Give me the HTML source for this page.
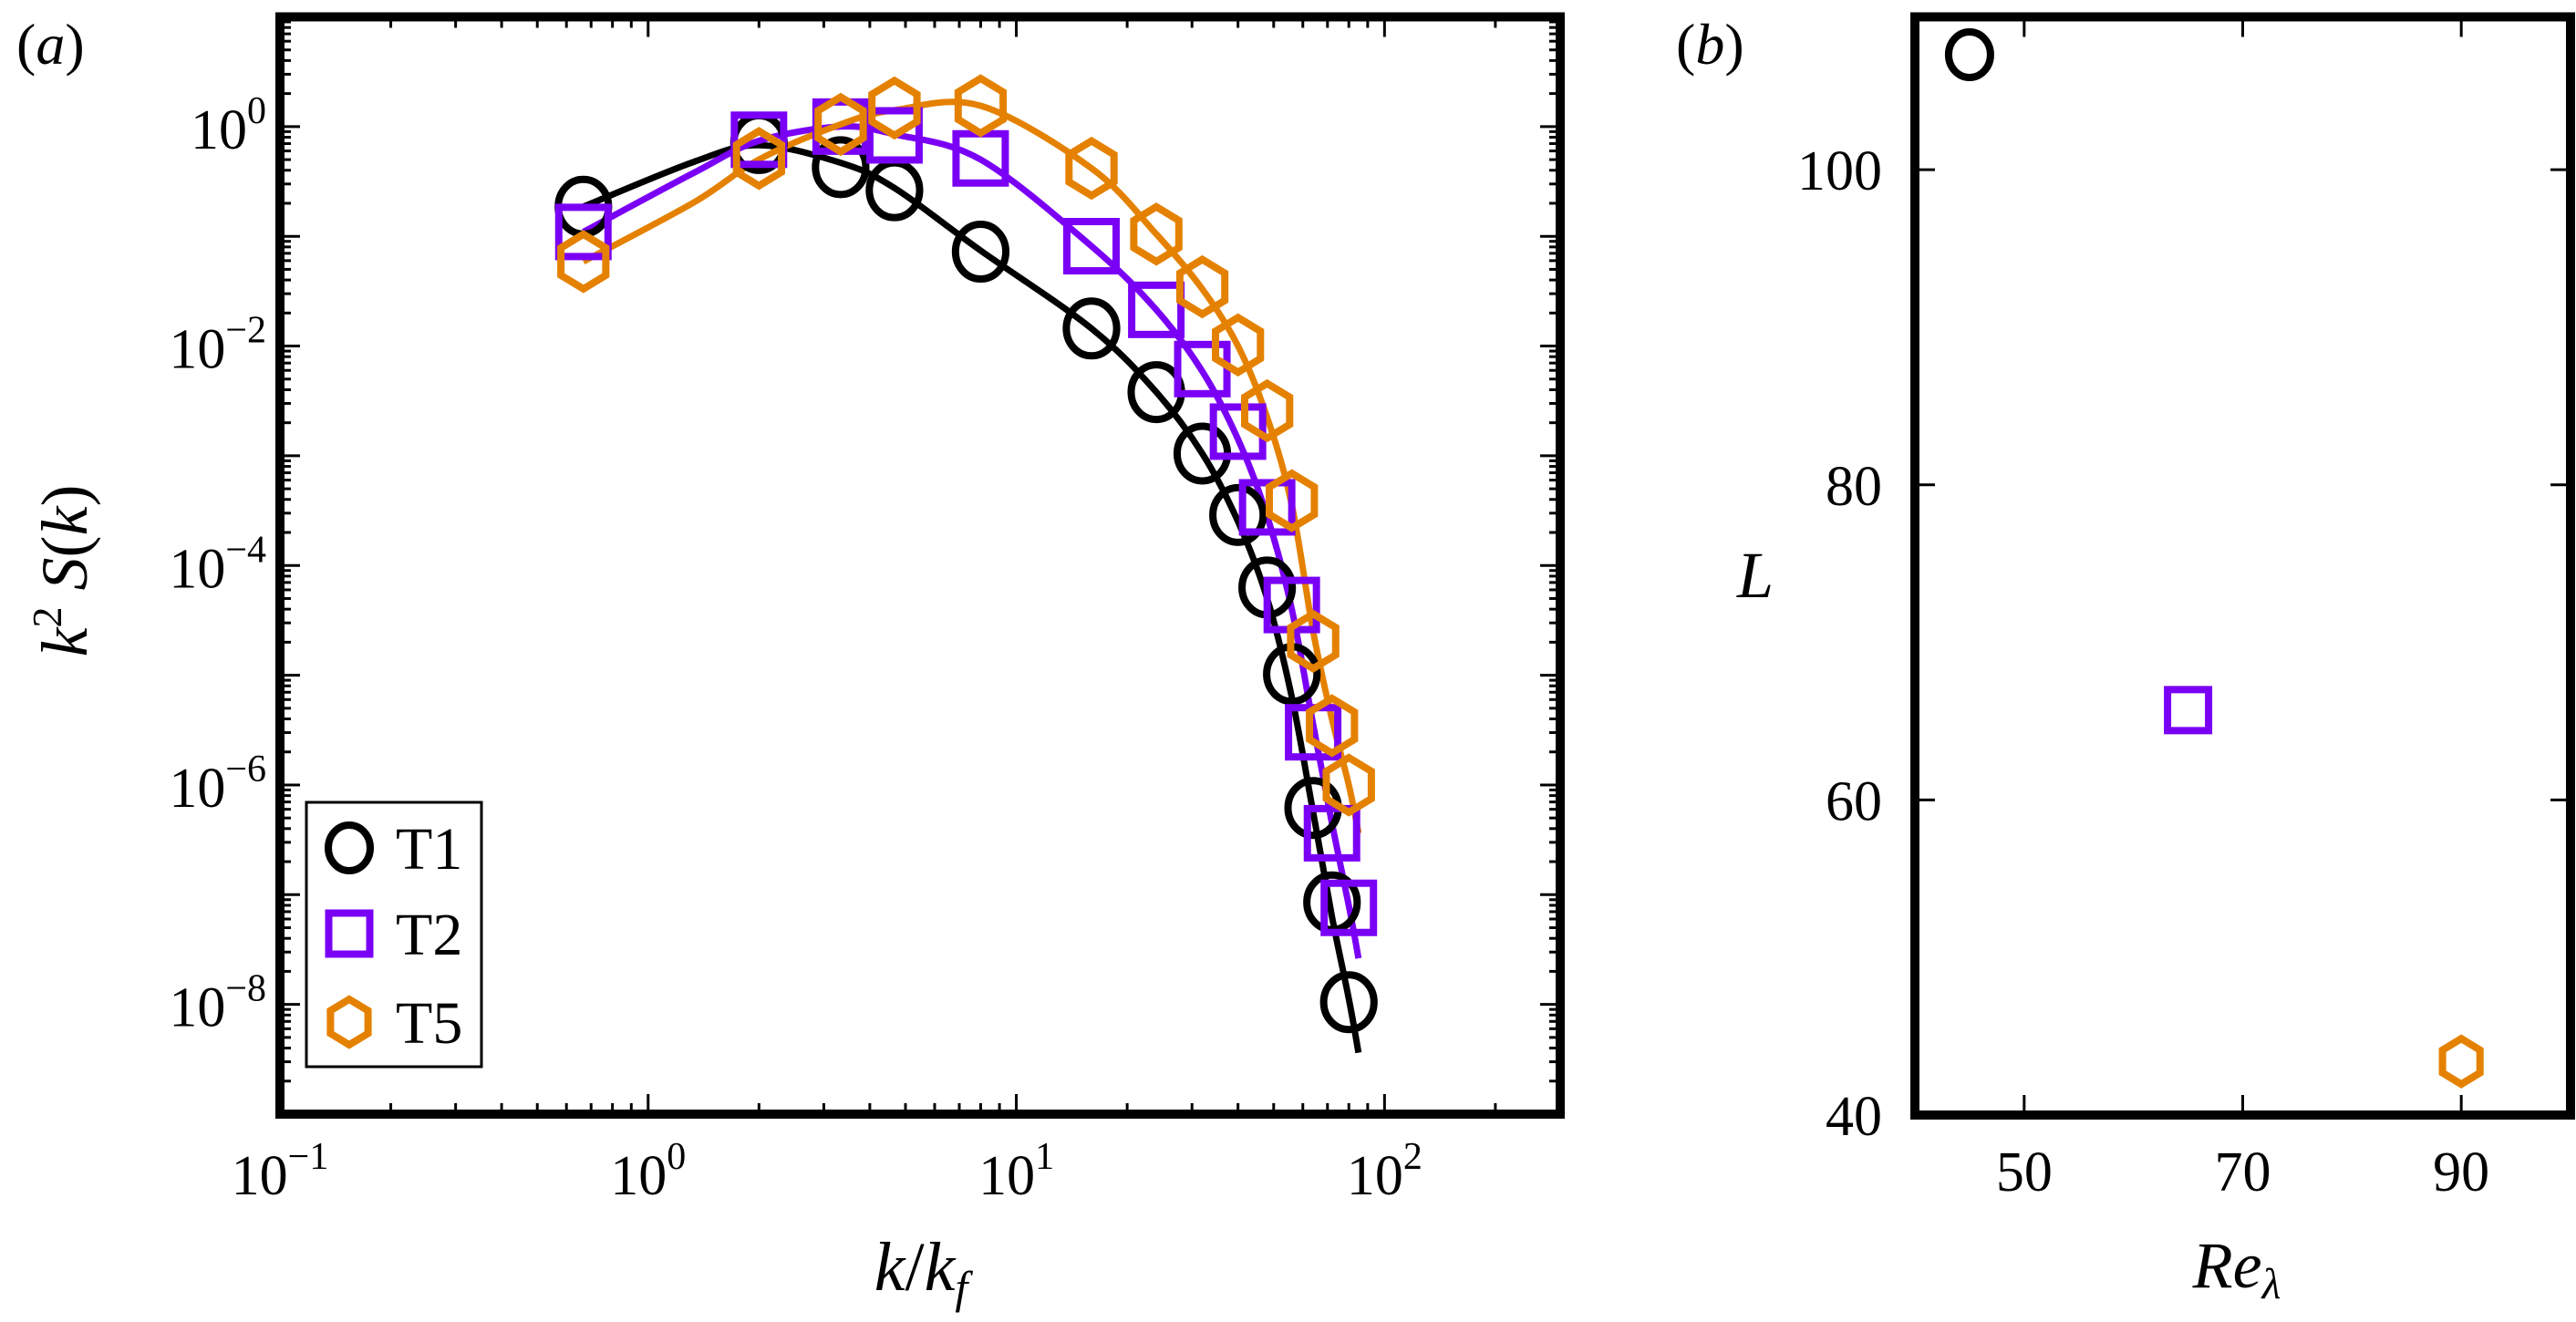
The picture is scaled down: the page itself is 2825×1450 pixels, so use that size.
<!DOCTYPE html>
<html><head><meta charset="utf-8"><style>
html,body{margin:0;padding:0;background:#fff;}
svg{display:block;font-family:"Liberation Serif",serif;}
</style></head><body>
<svg id="fig" width="2825" height="1450" viewBox="0 0 2825 1450" xmlns="http://www.w3.org/2000/svg">
<g id="pa"></g>
<g id="pb"></g>
<text x="18" y="70" font-size="64">(<tspan font-style="italic">a</tspan>)</text>
<text x="1838" y="70" font-size="64">(<tspan font-style="italic">b</tspan>)</text>
<text transform="translate(95,626) rotate(-90)" text-anchor="middle" font-size="72" font-style="italic">k<tspan font-style="normal" font-size="46" dy="-28">2</tspan><tspan dy="28"> S</tspan><tspan font-style="normal">(</tspan>k<tspan font-style="normal">)</tspan></text>
<text x="1010" y="1415" text-anchor="middle" font-size="76" font-style="italic">k<tspan font-style="normal">/</tspan>k<tspan font-size="50" dy="14">f</tspan></text>
<text x="1925" y="655" text-anchor="middle" font-size="72" font-style="italic">L</text>
<text x="2453" y="1412" text-anchor="middle" font-size="72" font-style="italic">Re<tspan font-size="48" dy="12">λ</tspan></text>
</svg>
<script>
const NS="http://www.w3.org/2000/svg";
// ---- Panel (a) data ----
const markerK=[0.667,2,3.333,4.667,8,16,24,32,40,48,56,64,72,80];
const t1Log=[-0.73,-0.15,-0.37,-0.58,-1.14,-1.84,-2.42,-2.98,-3.54,-4.2,-4.99,-6.21,-7.07,-7.98];
const t2Log=[-0.96,-0.12,0.0,-0.08,-0.29,-1.09,-1.67,-2.21,-2.78,-3.47,-4.36,-5.52,-6.44,-7.12];
const t5Log=[-1.23,-0.29,0.02,0.17,0.19,-0.38,-0.98,-1.46,-1.99,-2.59,-3.41,-4.69,-5.46,-6.0];
const lineK=[0.667,1.333,2,3.333,4.667,8,16,24,32,40,48,56,64,72,80,85];
const t1LineLog=[-0.73,-0.32,-0.17,-0.33,-0.56,-1.13,-1.84,-2.42,-2.98,-3.6,-4.3,-5.2,-6.25,-7.2,-7.95,-8.44];
const t2LineLog=[-0.96,-0.42,-0.13,0.0,-0.07,-0.3,-1.09,-1.67,-2.23,-2.85,-3.55,-4.4,-5.45,-6.35,-7.1,-7.58];
const t5LineLog=[-1.23,-0.69,-0.3,0.02,0.15,0.19,-0.38,-0.98,-1.48,-2.0,-2.65,-3.45,-4.6,-5.4,-6.0,-6.44];
const xTicksA=[-1,0,1,2];
const yTicksA=[0,-2,-4,-6,-8];
const legendNames=["T1","T2","T5"];
// ---- Panel (b) data ----
const reLambda=[45,65,90];
const lValues=[107.3,65.7,43.4];
const xTicksB=[50,70,90];
const yTicksB=[40,60,80,100];

const colors=["#000000","#7a00f5","#e58100"];
const shapes=["circle","square","hex"];

function el(tag,attrs,parent){const e=document.createElementNS(NS,tag);for(const k in attrs)e.setAttribute(k,attrs[k]);parent.appendChild(e);return e;}

// Panel a geometry
const A={l:307,r:1711,t:18.5,b:1222};
const xminA=-1,xmaxA=Math.log10(300),yminA=-9,ymaxA=1;
const xA=v=>A.l+(Math.log10(v)-xminA)/(xmaxA-xminA)*(A.r-A.l);
const xAl=lv=>A.l+(lv-xminA)/(xmaxA-xminA)*(A.r-A.l);
const yAl=lv=>A.b-(lv-yminA)/(ymaxA-yminA)*(A.b-A.t);

const pa=document.getElementById('pa');
const pb=document.getElementById('pb');

function marker(parent,shape,cx,cy,s,color,name){
  let m;
  if(shape==="circle") m=el('ellipse',{cx:cx,cy:cy,rx:s*0.92,ry:s,fill:'none',stroke:color,'stroke-width':8},parent);
  else if(shape==="square") m=el('rect',{x:cx-s*0.9,y:cy-s*0.9,width:s*1.8,height:s*1.8,fill:'none',stroke:color,'stroke-width':8},parent);
  else {let p=[];for(let i=0;i<6;i++){const a=Math.PI/2+i*Math.PI/3;p.push((cx+s*0.95*Math.cos(a)).toFixed(1)+','+(cy-s*Math.sin(a)).toFixed(1));}
    m=el('polygon',{points:p.join(' '),fill:'none',stroke:color,'stroke-width':8},parent);}
  
  
  return m;
}
function smoothPath(pts){
  let d='M'+pts[0][0].toFixed(1)+','+pts[0][1].toFixed(1);
  for(let i=0;i<pts.length-1;i++){
    const p0=pts[Math.max(i-1,0)],p1=pts[i],p2=pts[i+1],p3=pts[Math.min(i+2,pts.length-1)];
    const c1=[p1[0]+(p2[0]-p0[0])/6,p1[1]+(p2[1]-p0[1])/6];
    const c2=[p2[0]-(p3[0]-p1[0])/6,p2[1]-(p3[1]-p1[1])/6];
    d+=' C'+c1[0].toFixed(1)+','+c1[1].toFixed(1)+' '+c2[0].toFixed(1)+','+c2[1].toFixed(1)+' '+p2[0].toFixed(1)+','+p2[1].toFixed(1);
  }
  return d;
}

// ticks panel a
for(let d=-1;d<=2;d++){
  for(let m=1;m<=9;m++){
    const lv=d+Math.log10(m); if(lv>xmaxA) continue;
    const x=xAl(lv), len=m===1?22:12;
    const t1=el('line',{x1:x,x2:x,y1:A.b,y2:A.b-len,stroke:'#000','stroke-width':3},pa);
    
    
    const t2=el('line',{x1:x,x2:x,y1:A.t,y2:A.t+len,stroke:'#000','stroke-width':3},pa);
    
    
  }
}
for(let d=-9;d<=0;d++){
  for(let m=1;m<=9;m++){
    const lv=d+Math.log10(m); const y=yAl(lv), len=m===1?22:12;
    const t1=el('line',{x1:A.l,x2:A.l+len,y1:y,y2:y,stroke:'#000','stroke-width':3},pa);
    
    
    const t2=el('line',{x1:A.r,x2:A.r-len,y1:y,y2:y,stroke:'#000','stroke-width':3},pa);
    
    
  }
}
xTicksA.forEach(e=>{
  const t=el('text',{x:xAl(e),y:1310,'text-anchor':'middle','font-size':62},pa);
  t.innerHTML='10<tspan font-size="42" dy="-28">'+(e<0?'\u2212':'')+Math.abs(e)+'</tspan>';
  
  
});
yTicksA.forEach(e=>{
  const t=el('text',{x:292,y:yAl(e)+24,'text-anchor':'end','font-size':62},pa);
  t.innerHTML='10<tspan font-size="42" dy="-28">'+(e<0?'\u2212':'')+Math.abs(e)+'</tspan>';
  
  
});

// lines and markers
const lineSets=[t1LineLog,t2LineLog,t5LineLog];
const markSets=[t1Log,t2Log,t5Log];
lineSets.forEach((ys,si)=>{
  const pts=lineK.map((k,i)=>[xA(k),yAl(ys[i])]);
  const p=el('path',{d:smoothPath(pts),fill:'none',stroke:colors[si],'stroke-width':7,'stroke-linejoin':'round'},pa);
  
  
});
markSets.forEach((ys,si)=>{
  markerK.forEach((k,i)=>{
    marker(pa,shapes[si],xA(k),yAl(ys[i]),30,colors[si],'marker-'+legendNames[si].toLowerCase());
  });
});

// legend
const lg=el('g',{},pa);


const lb=el('rect',{x:336,y:880,width:192,height:290,fill:'#fff',stroke:'#000','stroke-width':3},lg);


const legY=[930,1024,1121];
legendNames.forEach((n,i)=>{
  marker(lg,shapes[i],383,legY[i],25,colors[i],'legend-marker-'+n.toLowerCase());
  const t=el('text',{x:434,y:legY[i]+23,'font-size':66},lg);
  t.textContent=n;
  
  
});
const fa=el('rect',{x:A.l,y:A.t,width:A.r-A.l,height:A.b-A.t,fill:'none',stroke:'#000','stroke-width':10},pa);



// Panel b
const B={l:2100,r:2819,t:18.5,b:1223};
const xB=v=>B.l+(v-40)/60*(B.r-B.l);
const yB=v=>B.b-(v-40)/(109.7-40)*(B.b-B.t);
xTicksB.forEach(v=>{
  const x=xB(v);
  const a=el('line',{x1:x,x2:x,y1:B.b,y2:B.b-22,stroke:'#000','stroke-width':3},pb);
  
  
  const b=el('line',{x1:x,x2:x,y1:B.t,y2:B.t+22,stroke:'#000','stroke-width':3},pb);
  
  
  const t=el('text',{x:x,y:1306,'text-anchor':'middle','font-size':62},pb);
  t.textContent=v;
  
  
});
yTicksB.forEach(v=>{
  const y=yB(v);
  const a=el('line',{x1:B.l,x2:B.l+22,y1:y,y2:y,stroke:'#000','stroke-width':3},pb);
  
  
  const b=el('line',{x1:B.r,x2:B.r-22,y1:y,y2:y,stroke:'#000','stroke-width':3},pb);
  
  
  const t=el('text',{x:2064,y:y+22,'text-anchor':'end','font-size':62},pb);
  t.textContent=v;
  
  
});
reLambda.forEach((r,i)=>{
  marker(pb,shapes[i],xB(r),yB(lValues[i]),25,colors[i],'point-'+legendNames[i].toLowerCase());
});
const fb=el('rect',{x:B.l,y:B.t,width:B.r-B.l,height:B.b-B.t,fill:'none',stroke:'#000','stroke-width':10},pb);


</script>
</body></html>
